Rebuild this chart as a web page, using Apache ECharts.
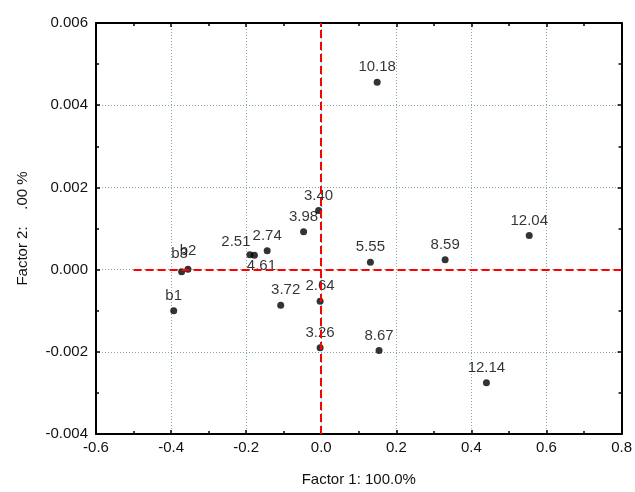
<!DOCTYPE html>
<html>
<head>
<meta charset="utf-8">
<script src="https://cdn.jsdelivr.net/npm/echarts@6/dist/echarts.min.js"></script>
<style>
  html, body { margin: 0; padding: 0; background: #fff; }
  #chart { width: 635px; height: 492px; }
</style>
</head>
<body>
<div id="chart"></div>
<script>
// point labels and coordinates
const names = ['b1', 'b3', 'b2', '2.51', '4.61', '2.74', '3.72', '3.98', '3.40', '2.64', '3.26', '10.18', '5.55', '8.59', '8.67', '12.04', '12.14']
const factor1 = [-0.393, -0.372, -0.355, -0.19, -0.178, -0.144, -0.108, -0.047, -0.007, -0.003, -0.003, 0.149, 0.131, 0.33, 0.154, 0.554, 0.44]
const factor2 = [-0.00100, -0.00005, 0.00001, 0.00036, 0.00035, 0.00046, -0.00087, 0.00092, 0.00144, -0.00077, -0.0019, 0.00456, 0.00018, 0.00024, -0.00197, 0.00083, -0.00275]

const xTicks = [-0.6, -0.4, -0.2, 0.0, 0.2, 0.4, 0.6, 0.8]
const yTicks = [-0.004, -0.002, 0.000, 0.002, 0.004, 0.006]

// labels that don't sit straight above their point
const labelTweaks = {
  '2.51': { position: 'top', offset: [-14, 2] },
  '4.61': { position: 'bottom', offset: [7, -4] },
  '3.72': { position: 'top', offset: [5, 0] },
  'b3': { position: 'top', offset: [-2, -3] },
  'b2': { position: 'top', offset: [0, -3] }
}

const font = 'Liberation Sans, Arial, sans-serif'
const gridStyle = { color: '#86a9ab', type: [1, 2], width: 1 }

const chart = echarts.init(document.getElementById('chart'))

const points = names.map((n, i) => {
  const item = { name: n, value: [factor1[i], factor2[i]] }
  if (labelTweaks[n]) item.label = labelTweaks[n]
  return item
})

const axisBase = {
  type: 'value',
  axisLine: { show: true, onZero: false, lineStyle: { color: '#000', width: 2 } },
  axisTick: { show: true, inside: true, length: 4, lineStyle: { color: '#000', width: 1.5 } },
  minorTick: { show: true, splitNumber: 2, length: 3, lineStyle: { color: '#000', width: 1.5 } }
}

const option = {
  animation: false,
  grid: { left: 96, top: 23, right: 10, bottom: 57 },
  xAxis: [
    Object.assign({}, axisBase, {
      min: -0.6, max: 0.8, interval: 0.2,
      name: 'Factor 1: 100.0%',
      nameLocation: 'middle',
      nameGap: 38,
      nameTextStyle: { color: '#111', fontSize: 15, fontFamily: font },
      axisLabel: {
        color: '#111', fontSize: 15, fontFamily: font, margin: 6,
        formatter: v => xTicks.includes(+v.toFixed(1)) ? v.toFixed(1) : ''
      },
      splitLine: { show: true, lineStyle: gridStyle }
    }),
    Object.assign({}, axisBase, {
      position: 'top',
      min: -0.6, max: 0.8, interval: 0.2,
      axisLabel: { show: false },
      splitLine: { show: false }
    })
  ],
  yAxis: [
    Object.assign({}, axisBase, {
      min: -0.004, max: 0.006, interval: 0.002,
      name: 'Factor 2:    .00 %',
      nameLocation: 'middle',
      nameGap: 66,
      nameTextStyle: { color: '#111', fontSize: 15, fontFamily: font },
      axisLabel: {
        color: '#111', fontSize: 15, fontFamily: font, margin: 8,
        formatter: v => yTicks.some(t => Math.abs(t - v) < 1e-9) ? v.toFixed(3) : ''
      },
      splitLine: { show: true, lineStyle: gridStyle }
    }),
    Object.assign({}, axisBase, {
      position: 'right',
      min: -0.004, max: 0.006, interval: 0.002,
      axisLabel: { show: false },
      splitLine: { show: false }
    })
  ],
  series: [
    {
      type: 'scatter',
      symbolSize: 7,
      itemStyle: { color: '#000' },
      label: {
        show: true,
        position: 'top',
        distance: 4,
        formatter: '{b}',
        color: '#000',
        fontSize: 15,
        fontFamily: font
      },
      markLine: {
        silent: true,
        symbol: 'none',
        label: { show: false },
        lineStyle: { color: '#ff0000', type: [8, 4], width: 2 },
        data: [
          [{ coord: [-0.5, 0] }, { coord: [0.8, 0] }],
          [{ coord: [0, -0.004] }, { coord: [0, 0.006] }]
        ]
      },
      data: points
    }
  ]
}

chart.setOption(option)
window.addEventListener('resize', () => chart.resize())
</script>
</body>
</html>
